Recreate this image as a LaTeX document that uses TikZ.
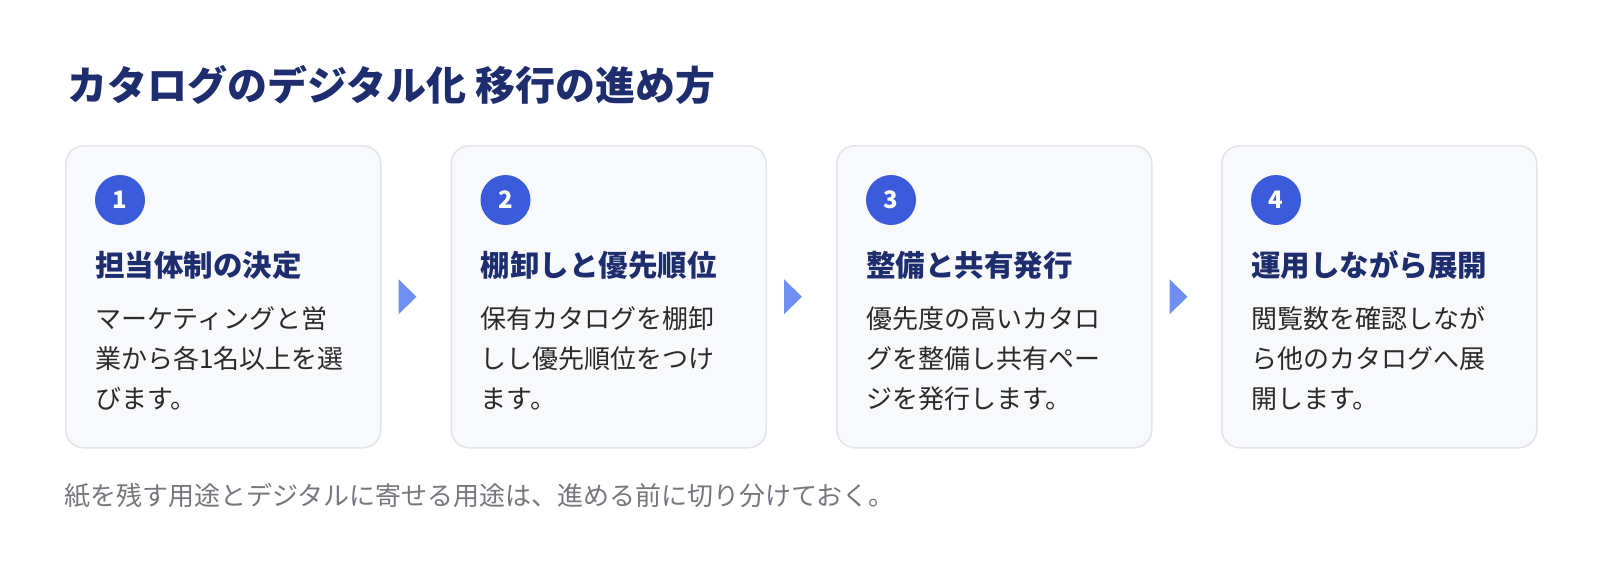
\documentclass[tikz,border=0pt]{standalone}
\usepackage{fontspec}
\setmainfont{Noto Sans CJK JP}
\definecolor{navy}{HTML}{1E2D6E}
\definecolor{stepblue}{HTML}{3B5BDB}
\definecolor{arrowblue}{HTML}{6F8FF2}
\definecolor{cardfill}{HTML}{F8F9FB}
\definecolor{cardline}{HTML}{E2E4E8}
\definecolor{bodytext}{HTML}{2B2B2B}
\definecolor{notegray}{HTML}{74777D}
\tikzset{
  card/.style={draw=cardline, fill=cardfill, line width=1.5pt, rounded corners=18pt,
    minimum width=315pt, minimum height=302pt, anchor=north west},
  num/.style={circle, fill=stepblue, text=white, minimum size=50pt, inner sep=0pt,
    font=\fontsize{24}{24}\selectfont\bfseries},
  head/.style={anchor=base west, inner sep=0pt, text=navy,
    font=\fontsize{29.5}{29.5}\selectfont\bfseries},
  body/.style={anchor=north west, inner sep=0pt, align=left, text=bodytext,
    font=\fontsize{26}{40}\selectfont},
}
\newcommand{\stepcard}[6]{
  % one step: card, number, heading and three lines
  \node[card] (c#1) at (#2, 145) {};
  \node[num] (n#1) at (#2+55, 200) {#1};
  \node[head] (h#1) at (#2+30, 276) {#3};
  \node[body] (b#1) at (#2+30, 306) {#4\\#5\\#6};
}
\newcommand{\steparrow}[1]{
  % small triangle right of card #1
  \fill[arrowblue] ([xshift=17pt, yshift=17.5pt]c#1.east) -- ([xshift=35pt]c#1.east)
    -- ([xshift=17pt, yshift=-17.5pt]c#1.east) -- cycle;
}
\begin{document}
\begin{tikzpicture}[x=1pt, y=-1pt]
	\useasboundingbox (0, 0) rectangle (1600, 576);
	\node[anchor=base west, inner sep=0pt, text=navy, font=\fontsize{40}{40}\selectfont\bfseries]
	  (title) at (67, 100) {カタログのデジタル化 移行の進め方};
	
	\stepcard{1}{65}{担当体制の決定}{マーケティングと営}{業から各1名以上を選}{びます。}
	\stepcard{2}{450.5}{棚卸しと優先順位}{保有カタログを棚卸}{しし優先順位をつけ}{ます。}
	\stepcard{3}{836}{整備と共有発行}{優先度の高いカタロ}{グを整備し共有ペー}{ジを発行します。}
	\stepcard{4}{1221}{運用しながら展開}{閲覧数を確認しなが}{ら他のカタログへ展}{開します。}
	
	\steparrow{1}
	\steparrow{2}
	\steparrow{3}
	
	\node[anchor=base west, inner sep=0pt, text=notegray, font=\fontsize{26}{26}\selectfont]
	  (note) at (64, 505) {紙を残す用途とデジタルに寄せる用途は、進める前に切り分けておく。};
\end{tikzpicture}
\end{document}
